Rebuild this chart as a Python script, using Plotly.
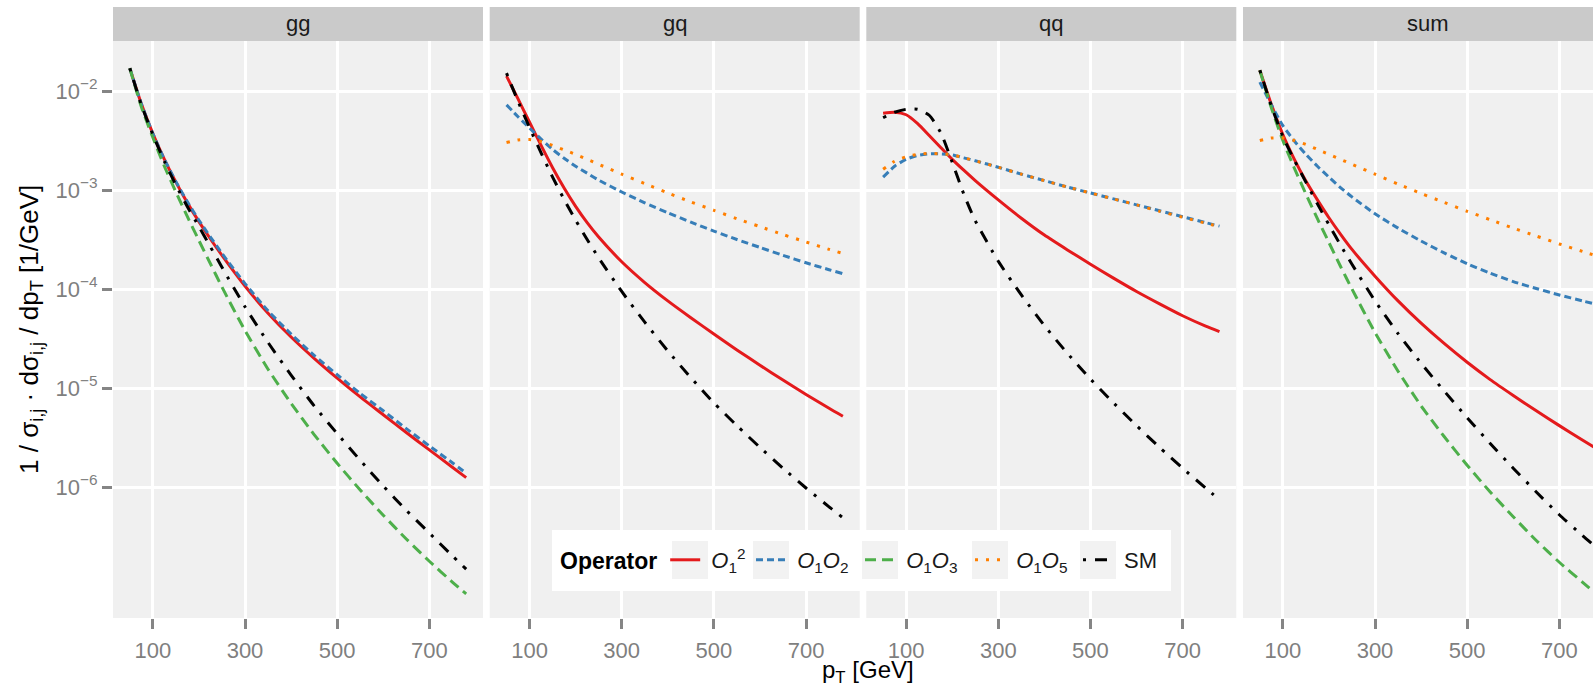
import plotly.graph_objects as go

# transverse momentum grid (GeV)
PT_GEV = [50, 75, 100, 125, 150, 175, 200, 225, 250, 300, 350, 400, 450,
          500, 550, 600, 650, 700, 750, 780]

FACETS = ["gg", "gq", "qq", "sum"]
X_TICKS = [100, 300, 500, 700]
Y_TICKS = [1e-6, 1e-5, 1e-4, 1e-3, 1e-2]
Y_TICK_TEXT = ["10<sup>\u22126</sup>", "10<sup>\u22125</sup>", "10<sup>\u22124</sup>",
               "10<sup>\u22123</sup>", "10<sup>\u22122</sup>"]

# normalised distributions, stored as log10(1/sigma dsigma/dpT [1/GeV])
GG_O1SQ = [-1.77, -2.13, -2.43, -2.69, -2.92, -3.13, -3.32, -3.495, -3.66, -3.97,
           -4.245, -4.485, -4.70, -4.90, -5.09, -5.27, -5.45, -5.625, -5.80, -5.905]
GG_O1O2 = [-1.77, -2.13, -2.43, -2.69, -2.915, -3.12, -3.305, -3.475, -3.64, -3.945,
           -4.22, -4.455, -4.67, -4.865, -5.055, -5.23, -5.41, -5.585, -5.755, -5.86]
GG_O1O3 = [-1.77, -2.16, -2.47, -2.76, -3.02, -3.27, -3.51, -3.745, -3.98, -4.42,
           -4.81, -5.155, -5.47, -5.76, -6.03, -6.285, -6.525, -6.75, -6.96, -7.08]
GG_SM = [-1.77, -2.14, -2.44, -2.71, -2.95, -3.17, -3.37, -3.575, -3.78, -4.18,
         -4.54, -4.87, -5.18, -5.46, -5.73, -5.99, -6.235, -6.465, -6.695, -6.83]

GQ_O1SQ = [-1.85, -2.08, -2.315, -2.55, -2.775, -2.98, -3.165, -3.33, -3.475, -3.725,
           -3.935, -4.12, -4.29, -4.455, -4.615, -4.77, -4.92, -5.065, -5.205, -5.285]
GQ_O1O2 = [-2.14, -2.26, -2.375, -2.485, -2.59, -2.68, -2.76, -2.83, -2.90, -3.02,
           -3.13, -3.23, -3.325, -3.415, -3.50, -3.58, -3.66, -3.735, -3.805, -3.845]
GQ_O1O5 = [-2.52, -2.495, -2.49, -2.51, -2.55, -2.595, -2.64, -2.69, -2.74, -2.84,
           -2.935, -3.03, -3.12, -3.205, -3.29, -3.37, -3.45, -3.525, -3.60, -3.64]
GQ_SM = [-1.82, -2.105, -2.37, -2.625, -2.87, -3.095, -3.305, -3.50, -3.685, -4.025,
         -4.335, -4.625, -4.895, -5.15, -5.38, -5.60, -5.81, -6.01, -6.20, -6.31]

QQ_O1SQ = [-2.225, -2.215, -2.24, -2.33, -2.45, -2.57, -2.69, -2.80, -2.905, -3.10,
           -3.285, -3.455, -3.605, -3.75, -3.89, -4.025, -4.15, -4.27, -4.375, -4.43]
QQ_O1O2 = [-2.87, -2.76, -2.69, -2.65, -2.635, -2.635, -2.645, -2.675, -2.705, -2.77,
           -2.84, -2.905, -2.97, -3.03, -3.09, -3.15, -3.21, -3.27, -3.33, -3.365]
QQ_O1O5 = [-2.79, -2.71, -2.665, -2.64, -2.63, -2.635, -2.645, -2.675, -2.705, -2.77,
           -2.84, -2.905, -2.97, -3.03, -3.09, -3.15, -3.215, -3.275, -3.335, -3.37]
QQ_SM = [-2.27, -2.215, -2.185, -2.185, -2.245, -2.42, -2.72, -3.04, -3.31, -3.72,
         -4.06, -4.37, -4.65, -4.91, -5.15, -5.38, -5.60, -5.81, -6.01, -6.13]

SUM_O1SQ = [-1.79, -2.135, -2.44, -2.69, -2.91, -3.10, -3.28, -3.445, -3.60, -3.87,
            -4.12, -4.345, -4.55, -4.74, -4.915, -5.075, -5.23, -5.38, -5.525, -5.61]
SUM_O1O2 = [-1.91, -2.14, -2.35, -2.505, -2.64, -2.76, -2.87, -2.975, -3.07, -3.24,
            -3.385, -3.515, -3.635, -3.745, -3.84, -3.925, -3.995, -4.06, -4.12, -4.155]
SUM_O1O3 = [-1.79, -2.17, -2.50, -2.78, -3.04, -3.29, -3.53, -3.77, -4.00, -4.44,
            -4.83, -5.18, -5.49, -5.78, -6.05, -6.30, -6.54, -6.76, -6.96, -7.08]
SUM_O1O5 = [-2.50, -2.475, -2.475, -2.50, -2.54, -2.59, -2.64, -2.69, -2.74, -2.84,
            -2.94, -3.035, -3.125, -3.215, -3.30, -3.385, -3.465, -3.545, -3.62, -3.665]
SUM_SM = [-1.79, -2.15, -2.46, -2.70, -2.92, -3.14, -3.35, -3.555, -3.75, -4.12,
          -4.45, -4.75, -5.03, -5.30, -5.56, -5.81, -6.05, -6.28, -6.49, -6.61]

CURVES = {
    "gg": {"O1^2": GG_O1SQ, "O1O2": GG_O1O2, "O1O3": GG_O1O3, "SM": GG_SM},
    "gq": {"O1^2": GQ_O1SQ, "O1O2": GQ_O1O2, "O1O5": GQ_O1O5, "SM": GQ_SM},
    "qq": {"O1^2": QQ_O1SQ, "O1O2": QQ_O1O2, "O1O5": QQ_O1O5, "SM": QQ_SM},
    "sum": {"O1^2": SUM_O1SQ, "O1O2": SUM_O1O2, "O1O3": SUM_O1O3,
            "O1O5": SUM_O1O5, "SM": SUM_SM},
}

OPERATORS = ["O1^2", "O1O2", "O1O3", "O1O5", "SM"]
NBSP = "\u00a0"
LABELS = {
    "O1^2": NBSP + "<i>O</i><sub>1</sub><sup>2</sup>",
    "O1O2": NBSP + "<i>O</i><sub>1</sub><i>O</i><sub>2</sub>",
    "O1O3": NBSP + "<i>O</i><sub>1</sub><i>O</i><sub>3</sub>",
    "O1O5": NBSP + "<i>O</i><sub>1</sub><i>O</i><sub>5</sub>",
    "SM": NBSP + "SM",
}
STYLES = {
    "O1^2": dict(color="#E41A1C", dash="solid"),
    "O1O2": dict(color="#377EB8", dash="7px,4px"),
    "O1O3": dict(color="#4DAF4A", dash="11px,6px"),
    "O1O5": dict(color="#FF7F00", dash="3px,8px"),
    "SM": dict(color="#000000", dash="3px,9px,12px,9px"),
}

W, H = 1593, 687
FONT = "Liberation Sans, Arial, Helvetica, sans-serif"

# panel geometry in pixels
PANEL_LEFT = [113, 489.7, 866.3, 1243]
PANEL_W = 370
PANEL_TOP, PANEL_BOTTOM = 41, 618
STRIP_TOP = 7
X_RANGE = [13.5, 816.5]
PX_PER_GEV = PANEL_W / (X_RANGE[1] - X_RANGE[0])
Y_RANGE = [-7.323, -1.495]

# legend row: key centres (px) and vertical centre
KEY_CENTRES = [690, 771, 880, 990, 1098]
LEGEND_Y = 560


def px(x):
    return x / W


def py(y):
    return 1 - y / H


legend_ids = ["legend", "legend2", "legend3", "legend4", "legend5"]

fig = go.Figure()
shown = set()
for i, facet in enumerate(FACETS):
    suffix = "" if i == 0 else str(i + 1)
    for k, op in enumerate(OPERATORS):
        if op not in CURVES[facet]:
            continue
        fig.add_trace(go.Scatter(
            x=PT_GEV,
            y=[10 ** v for v in CURVES[facet][op]],
            mode="lines",
            name=LABELS[op],
            legendgroup=op,
            legend=legend_ids[k],
            showlegend=op not in shown,
            line=dict(width=3, shape="spline", smoothing=0.6, **STYLES[op]),
            xaxis="x" + suffix,
            yaxis="y" + suffix,
            hoverinfo="skip",
        ))
        shown.add(op)

layout = dict(
    width=W, height=H, autosize=False,
    margin=dict(l=0, r=0, t=0, b=0),
    paper_bgcolor="white", plot_bgcolor="#F0F0F0",
    font=dict(family=FONT, size=22, color="#1A1A1A"),
    showlegend=True,
)

shapes = []
annotations = []
for i, facet in enumerate(FACETS):
    suffix = "" if i == 0 else str(i + 1)
    left = PANEL_LEFT[i]
    right = min(left + PANEL_W, W)
    x_max = X_RANGE[0] + (right - left) / PX_PER_GEV
    layout["xaxis" + suffix] = dict(
        domain=[px(left), px(right)],
        range=[X_RANGE[0], x_max],
        anchor="y" + suffix,
        tickmode="array", tickvals=X_TICKS, ticktext=[str(t) for t in X_TICKS],
        ticks="outside", ticklen=10, tickwidth=3, tickcolor="#858585",
        ticklabelstandoff=3,
        tickfont=dict(size=22, color="#7F7F7F"),
        showgrid=True, gridcolor="white", gridwidth=2.5,
        zeroline=False, showline=False, fixedrange=True,
    )
    ydict = dict(
        domain=[py(PANEL_BOTTOM), py(PANEL_TOP)],
        type="log", range=Y_RANGE,
        anchor="x" + suffix,
        tickmode="array", tickvals=Y_TICKS, ticktext=Y_TICK_TEXT,
        showgrid=True, gridcolor="white", gridwidth=2.5,
        zeroline=False, showline=False, fixedrange=True,
    )
    if i == 0:
        ydict.update(ticks="outside", ticklen=10, tickwidth=3, tickcolor="#858585",
                     tickfont=dict(size=22, color="#7F7F7F"))
    else:
        ydict.update(ticks="", showticklabels=False)
    layout["yaxis" + suffix] = ydict

    # facet strip
    shapes.append(dict(type="rect", xref="paper", yref="paper",
                       x0=px(left), x1=px(right), y0=py(PANEL_TOP), y1=py(STRIP_TOP),
                       fillcolor="#CACACA", line=dict(width=0), layer="below"))
    annotations.append(dict(text=facet, xref="paper", yref="paper",
                            x=px(left + PANEL_W / 2), y=py((STRIP_TOP + PANEL_TOP) / 2),
                            xanchor="center", yanchor="middle", showarrow=False,
                            font=dict(size=22, color="#1A1A1A")))

# legend panel and key backgrounds
shapes.append(dict(type="rect", xref="paper", yref="paper",
                   x0=px(552), x1=px(1171), y0=py(591), y1=py(530),
                   fillcolor="white", line=dict(width=0), layer="above"))
for c in KEY_CENTRES:
    shapes.append(dict(type="rect", xref="paper", yref="paper",
                       x0=px(c - 18), x1=px(c + 18), y0=py(579), y1=py(541),
                       fillcolor="#F2F2F2", line=dict(width=0), layer="above"))

annotations.append(dict(text="p<sub>T</sub> [GeV]", xref="paper", yref="paper",
                        x=px(868), y=py(671), xanchor="center", yanchor="middle",
                        showarrow=False, font=dict(size=24, color="#000000")))
annotations.append(dict(text="1 / \u03c3<sub>i,j</sub> \u00b7 d\u03c3<sub>i,j</sub> / dp<sub>T</sub> [1/GeV]",
                        xref="paper", yref="paper", x=px(30), y=py(330),
                        xanchor="center", yanchor="middle", textangle=-90,
                        showarrow=False, font=dict(size=26, color="#000000")))

layout["shapes"] = shapes
layout["annotations"] = annotations

legend_common = dict(
    orientation="h", xanchor="left", y=py(LEGEND_Y), yanchor="middle",
    bgcolor="rgba(0,0,0,0)", borderwidth=0,
    font=dict(size=22, color="#1A1A1A"), itemwidth=30,
)
# first legend carries the title; the others each hold one operator key
layout["legend"] = dict(
    legend_common, x=px(558),
    title=dict(text="<b>Operator</b>", side="left", font=dict(size=23, color="#000000")),
)
for k in range(1, 5):
    layout[legend_ids[k]] = dict(legend_common, x=px(KEY_CENTRES[k] - 20))

fig.update_layout(**layout)
fig.write_html("out.html", config={"displayModeBar": False})
